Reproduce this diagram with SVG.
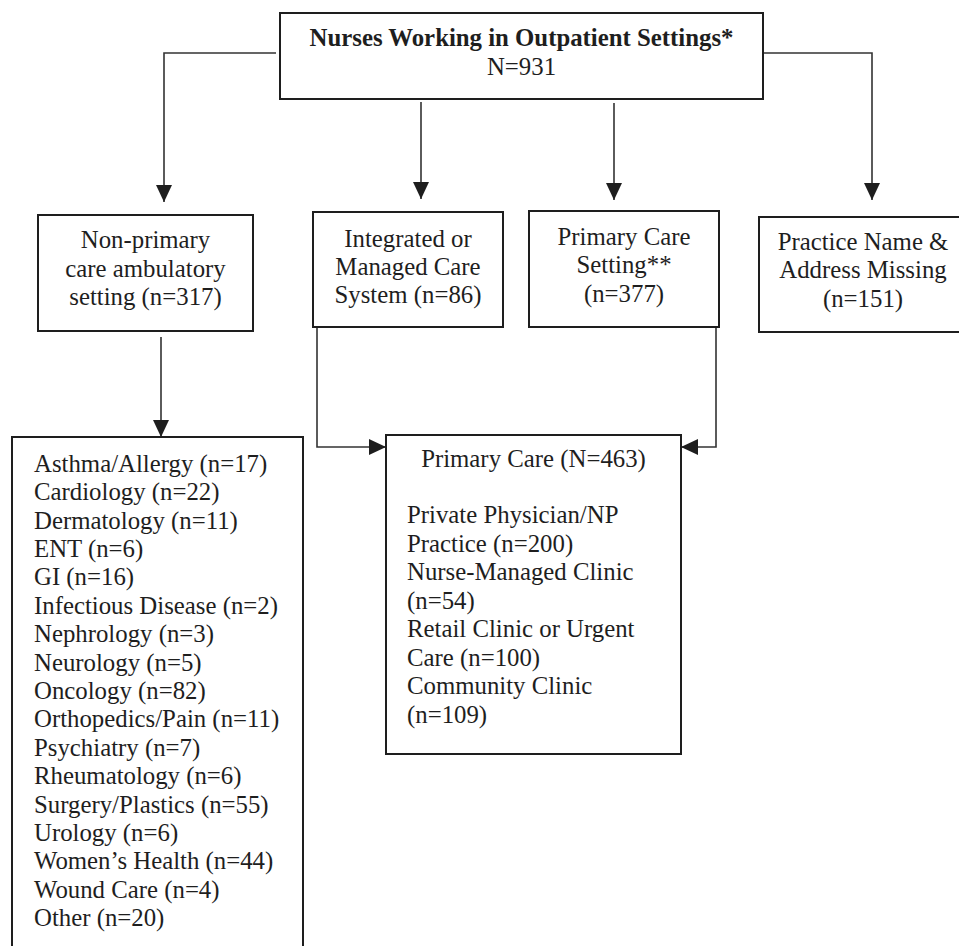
<svg xmlns="http://www.w3.org/2000/svg" width="959" height="946" viewBox="0 0 959 946">
<style>
.box{fill:#fff;stroke:#1e1e1e;stroke-width:2}
.t{font-family:"Liberation Serif","Times New Roman",serif;font-size:24.8px;fill:#1e1e1e}
.c{text-anchor:middle}
.b{font-weight:bold}
.con{fill:none;stroke:#333;stroke-width:1.6}
</style>
<defs>
<marker id="ah" viewBox="0 0 17 16" refX="17" refY="8" markerWidth="17" markerHeight="16" markerUnits="userSpaceOnUse" orient="auto">
<path d="M0,0 L17,8 L0,16 z" fill="#1e1e1e"/>
</marker>
</defs>
<rect width="959" height="946" fill="#fff"/>
<g id="connectors">
<path class="con" d="M276,53 H164 V202" marker-end="url(#ah)"/>
<path class="con" d="M421,102 V199" marker-end="url(#ah)"/>
<path class="con" d="M614,103 V200" marker-end="url(#ah)"/>
<path class="con" d="M763,53 H872 V200" marker-end="url(#ah)"/>
<path class="con" d="M161,337 V437" marker-end="url(#ah)"/>
<path class="con" d="M317,327 V447 H386" marker-end="url(#ah)"/>
<path class="con" d="M716,327 V447 H681" marker-end="url(#ah)"/>
</g>
<g id="root">
<rect class="box" x="280" y="13" width="483" height="86"/>
<text class="t c b" x="521.5" y="46">Nurses Working in Outpatient Settings*</text>
<text class="t c" x="521.5" y="75">N=931</text>
</g>
<g id="nonprimary">
<rect class="box" x="38" y="215" width="215" height="116"/>
<text class="t c" x="145.5" y="248">Non-primary</text>
<text class="t c" x="145.5" y="277">care ambulatory</text>
<text class="t c" x="145.5" y="305">setting (n=317)</text>
</g>
<g id="integrated">
<rect class="box" x="313" y="212" width="190" height="115"/>
<text class="t c" x="408" y="247">Integrated or</text>
<text class="t c" x="408" y="275">Managed Care</text>
<text class="t c" x="408" y="303">System (n=86)</text>
</g>
<g id="primarysetting">
<rect class="box" x="529" y="211" width="190" height="116"/>
<text class="t c" x="624" y="245">Primary Care</text>
<text class="t c" x="624" y="273">Setting**</text>
<text class="t c" x="624" y="302">(n=377)</text>
</g>
<g id="missing">
<rect class="box" x="759" y="217" width="210" height="115"/>
<text class="t c" x="863" y="250">Practice Name &amp;</text>
<text class="t c" x="863" y="278">Address Missing</text>
<text class="t c" x="863" y="307">(n=151)</text>
</g>
<g id="specialties">
<rect class="box" x="12" y="437" width="291" height="520"/>
<text class="t" x="34" y="471.7">Asthma/Allergy (n=17)</text>
<text class="t" x="34" y="500.1">Cardiology (n=22)</text>
<text class="t" x="34" y="528.5">Dermatology (n=11)</text>
<text class="t" x="34" y="556.9">ENT (n=6)</text>
<text class="t" x="34" y="585.3">GI (n=16)</text>
<text class="t" x="34" y="613.7">Infectious Disease (n=2)</text>
<text class="t" x="34" y="642.1">Nephrology (n=3)</text>
<text class="t" x="34" y="670.5">Neurology (n=5)</text>
<text class="t" x="34" y="698.9">Oncology (n=82)</text>
<text class="t" x="34" y="727.3">Orthopedics/Pain (n=11)</text>
<text class="t" x="34" y="755.7">Psychiatry (n=7)</text>
<text class="t" x="34" y="784.1">Rheumatology (n=6)</text>
<text class="t" x="34" y="812.5">Surgery/Plastics (n=55)</text>
<text class="t" x="34" y="840.9">Urology (n=6)</text>
<text class="t" x="34" y="869.3">Women’s Health (n=44)</text>
<text class="t" x="34" y="897.7">Wound Care (n=4)</text>
<text class="t" x="34" y="926.1">Other (n=20)</text>
</g>
<g id="primarycare">
<rect class="box" x="386" y="435" width="295" height="319"/>
<text class="t c" x="533.5" y="467">Primary Care (N=463)</text>
<text class="t" x="407" y="523">Private Physician/NP</text>
<text class="t" x="407" y="551.5">Practice (n=200)</text>
<text class="t" x="407" y="580">Nurse-Managed Clinic</text>
<text class="t" x="407" y="608.5">(n=54)</text>
<text class="t" x="407" y="637">Retail Clinic or Urgent</text>
<text class="t" x="407" y="665.5">Care (n=100)</text>
<text class="t" x="407" y="694">Community Clinic</text>
<text class="t" x="407" y="722.5">(n=109)</text>
</g>
</svg>
